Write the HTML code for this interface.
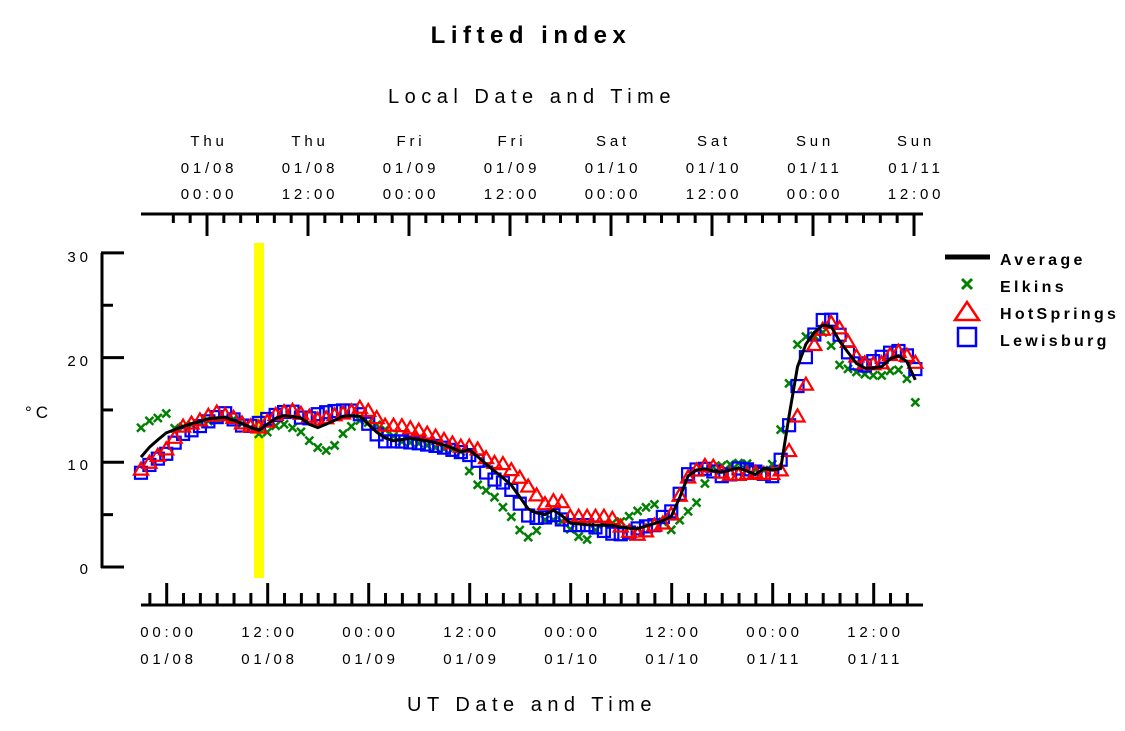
<!DOCTYPE html>
<html><head><meta charset="utf-8"><style>
html,body{margin:0;padding:0;background:#fff;}
svg{display:block;}
text{font-family:"Liberation Sans",sans-serif;fill:#000;}
</style></head><body>
<svg id="s" width="1125" height="731" xmlns="http://www.w3.org/2000/svg">
<text x="531" y="43" font-size="24" font-weight="bold" text-anchor="middle" letter-spacing="5.5">Lifted index</text>
<text x="532" y="103" font-size="20" text-anchor="middle" letter-spacing="5.5">Local Date and Time</text>
<text x="532" y="711" font-size="20" text-anchor="middle" letter-spacing="5.5">UT Date and Time</text>
<text x="25" y="418" font-size="17" letter-spacing="4">°C</text>
<g font-size="15" text-anchor="end" letter-spacing="4">
<text x="92" y="262">30</text><text x="92" y="366">20</text><text x="92" y="470">10</text><text x="92" y="574">0</text>
</g>
<rect x="254" y="243" width="10" height="335" fill="#ffff00"/>
<g id="ax" stroke="#000" fill="none"></g>
<g id="dat"></g>
<g id="lab" font-size="15" text-anchor="middle" letter-spacing="3.8"></g>
<line x1="945" y1="257" x2="990" y2="257" stroke="#000" stroke-width="5"/>
<g stroke="#008000" stroke-width="3"><line x1="962" y1="279" x2="972" y2="289"/><line x1="972" y1="279" x2="962" y2="289"/></g>
<polygon points="955,320 979,320 967,302" fill="none" stroke="#f00" stroke-width="2.5"/>
<rect x="958" y="328" width="18" height="18" fill="none" stroke="#00f" stroke-width="2.5"/>
<g font-size="16" font-weight="bold" letter-spacing="3.3">
<text x="1000" y="265">Average</text><text x="1000" y="292">Elkins</text><text x="1000" y="319">HotSprings</text><text x="1000" y="346">Lewisburg</text>
</g>
</svg>
<script>
var NS="http://www.w3.org/2000/svg";
function el(p,t,a){var e=document.createElementNS(NS,t);for(var k in a)e.setAttribute(k,a[k]);p.appendChild(e);return e;}
var ax=document.getElementById('ax'),lab=document.getElementById('lab'),dat=document.getElementById('dat');
var ph=101/12;
el(ax,'line',{x1:141,y1:214,x2:923,y2:214,'stroke-width':3});
for(var i=-4;i<=86;i+=2){var x=207+i*ph;if(x<140||x>924)continue;var maj=(i%12==0);el(ax,'line',{x1:x,y1:214,x2:x,y2:maj?236:223,'stroke-width':3});}
var days=['Thu','Thu','Fri','Fri','Sat','Sat','Sun','Sun'],dd=['01/08','01/08','01/09','01/09','01/10','01/10','01/11','01/11'];
for(var j=0;j<8;j++){var x=209+j*101;
var t=el(lab,'text',{x:x,y:146});t.textContent=days[j];
t=el(lab,'text',{x:x,y:173});t.textContent=dd[j];
t=el(lab,'text',{x:x,y:199});t.textContent=(j%2?'12:00':'00:00');}
el(ax,'line',{x1:141,y1:605,x2:923,y2:605,'stroke-width':3});
for(var i=-2;i<=90;i+=2){var x=166.7+i*ph;if(x<140||x>924)continue;var maj=(i%12==0);el(ax,'line',{x1:x,y1:605,x2:x,y2:maj?583:593,'stroke-width':3});}
var bd=['01/08','01/08','01/09','01/09','01/10','01/10','01/11','01/11'];
for(var j=0;j<8;j++){var x=168.5+j*101;
var t=el(lab,'text',{x:x,y:637});t.textContent=(j%2?'12:00':'00:00');
t=el(lab,'text',{x:x,y:664});t.textContent=bd[j];}
el(ax,'line',{x1:102,y1:253,x2:102,y2:568,'stroke-width':3});
for(var v=0;v<=30;v+=5){var y=567-v*10.47;el(ax,'line',{x1:101,y1:y,x2:(v%10==0)?124:113,y2:y,'stroke-width':3});}
function Y(v){return 567-v*10.47;}
function interp(k,x){for(var i=0;i<k.length-2;i+=2){if(x<=k[i+2]){var f=(x-k[i])/(k[i+2]-k[i]);return k[i+1]+f*(k[i+3]-k[i+1]);}}return k[k.length-1];}
var AV=[141,10.5,150,11.5,166,12.8,185,13.5,210,14.2,225,14.3,245,13.6,258,13.0,280,14.5,300,14.3,315,13.2,330,13.8,345,14.5,360,14.4,375,13.0,390,12.0,410,12.3,430,12.0,450,11.5,460,11.0,470,11.2,490,9.5,510,8.0,530,5.3,545,5.0,555,5.5,570,4.2,590,4.0,610,4.0,635,3.6,660,4.3,675,5.0,685,8.5,700,9.5,720,9.0,740,9.5,755,8.8,765,9.5,780,9.0,790,15,800,20.5,815,22.5,828,23.5,840,21.5,860,19.0,880,19.0,895,20.3,905,20.0,922,16.5];
var HS=[141,9.3,150,10,160,10.8,170,11.5,180,13.3,200,14,215,14.8,235,14.2,245,13.5,260,13.3,275,14.5,290,15.0,305,14.5,320,14.0,335,14.5,350,14.8,362,15.3,370,14.8,385,13.5,400,13.5,420,13.0,440,12.3,460,11.5,475,11.5,490,10.0,505,9.8,520,8.5,535,7.0,545,6.0,560,6.5,570,4.8,590,4.8,610,4.8,625,3.5,640,3.0,655,4.0,665,4.2,675,5.5,685,8.3,700,9.5,710,9.8,725,8.8,740,8.8,755,9.0,770,8.8,785,9.4,795,13.5,805,17,815,21.5,825,23,835,23.5,848,21.5,860,19.5,880,19.3,895,20.7,905,20.3,915,19.6,922,17.5];
var LB=[141,9.0,150,9.8,160,10.5,170,11,178,12.5,195,13.2,210,14,225,14.7,235,14.0,245,13.3,260,13.8,275,14.5,290,15.0,305,14.0,320,14.7,335,14.9,350,15.0,362,14.5,375,12.8,385,12.0,400,12.0,420,11.8,440,11.5,460,11.0,475,10.5,490,8.5,505,8.0,515,7.0,525,5.0,540,4.6,555,5.0,570,4.0,590,4.0,610,3.2,625,3.1,640,3.8,655,4.0,665,5.0,675,5.5,685,8.7,700,9.5,712,9.2,725,8.5,740,9.5,760,9.0,775,8.6,785,11.5,795,16.5,803,19,810,21.5,818,22.8,827,24.3,838,22.5,848,20.5,860,19.0,880,20,895,20.7,905,20.5,915,19.0,922,17.0];
var EL=[141,13.3,150,14.0,160,14.3,166,14.7,175,13.2,200,13.8,230,14.3,250,13.3,262,12.5,280,13.8,300,13.0,315,11.5,330,11.0,345,13.0,360,14.0,380,13.5,400,12.0,420,11.8,440,11.3,460,11.2,470,9.0,480,7.5,490,7.2,500,6.0,510,5.0,520,3.5,530,2.7,545,4.5,560,4.5,575,3.2,585,2.4,600,4.0,620,4.3,640,5.5,655,6.0,668,3.2,680,4.5,690,5.5,700,6.5,710,9.5,730,9.8,745,10.0,760,9.0,775,10.0,785,15.5,795,20.5,800,22.0,812,22.0,825,22.5,840,19.2,860,18.5,880,18.2,895,19.0,905,18.5,915,15.8,922,14.3];
var xs=[];for(var x=141;x<=923;x+=ph)xs.push(x);
xs.forEach(function(x){var y=Y(interp(EL,x));
el(dat,'path',{d:'M'+(x-4)+','+(y-4)+'L'+(x+4)+','+(y+4)+'M'+(x+4)+','+(y-4)+'L'+(x-4)+','+(y+4),stroke:'#008000','stroke-width':2.5,fill:'none'});});
xs.forEach(function(x){var y=Y(interp(LB,x));el(dat,'rect',{x:x-6,y:y-6,width:12,height:12,fill:'none',stroke:'#00f','stroke-width':2.2});});
xs.forEach(function(x){var y=Y(interp(HS,x));el(dat,'polygon',{points:(x-7)+','+(y+5)+' '+(x+7)+','+(y+5)+' '+x+','+(y-7),fill:'none',stroke:'#f00','stroke-width':2.2});});
var pts=xs.map(function(x){return x.toFixed(1)+','+Y(interp(AV,x)).toFixed(1);}).join(' ');
el(dat,'polyline',{points:pts,fill:'none',stroke:'#000','stroke-width':3,'stroke-linejoin':'round'});
</script>
</body></html>
